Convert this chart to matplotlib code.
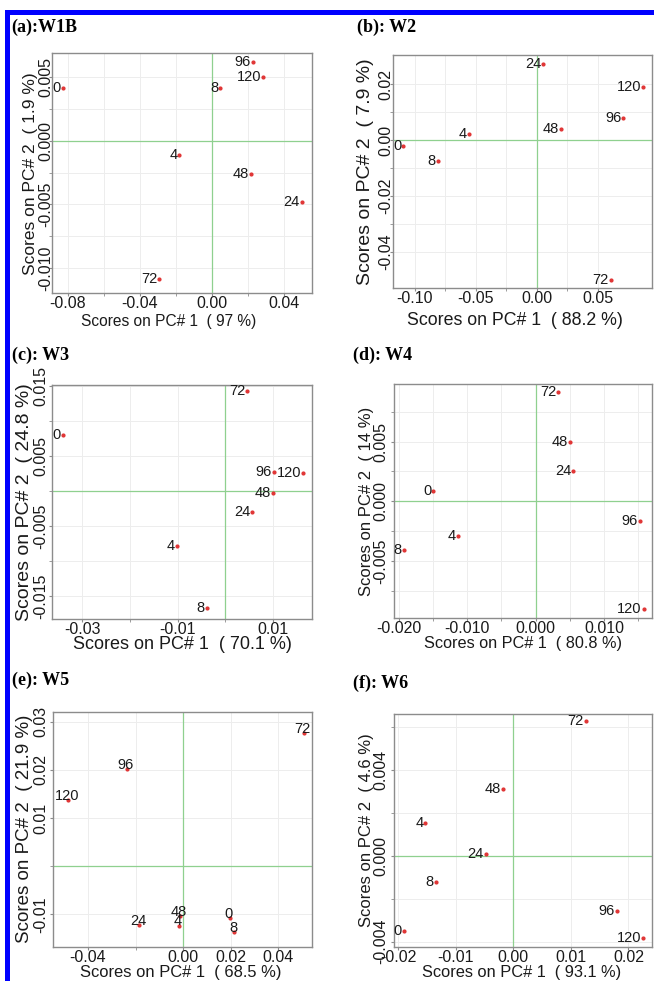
import matplotlib
matplotlib.use('Agg')
import matplotlib.pyplot as plt
from matplotlib.patches import Rectangle
from matplotlib.ticker import FixedLocator, FormatStrFormatter

plt.rcParams['font.family'] = ['Liberation Sans', 'DejaVu Sans']
plt.rcParams['axes.unicode_minus'] = False

hours = ['0', '4', '8', '24', '48', '72', '96', '120']

# scores (PC1, PC2) for each sample
a_x = [-0.0826, -0.0179, 0.0049, 0.0502, 0.0217, -0.0291, 0.0231, 0.0287]
a_y = [0.0042, -0.00107, 0.0042, -0.0048, -0.00257, -0.0109, 0.0062, 0.0050]
b_x = [-0.1096, -0.056, -0.0811, 0.0054, 0.0197, 0.0607, 0.071, 0.0874]
b_y = [-0.0022, 0.0022, -0.0076, 0.0272, 0.0039, -0.0502, 0.0077, 0.0188]
c_x = [-0.0341, -0.0102, -0.0039, 0.0056, 0.0099, 0.00456, 0.0101, 0.0163]
c_y = [0.0081, -0.0078, -0.0167, -0.0030, -0.0002, 0.0143, 0.0028, 0.0026]
d_x = [-0.01495, -0.0113, -0.0193, 0.0055, 0.0050, 0.0033, 0.0152, 0.0158]
d_y = [0.00084, -0.0029, -0.0041, 0.0025, 0.0050, 0.00916, -0.00168, -0.00904]
e_x = [0.0198, -0.0015, 0.0216, -0.0184, -0.0013, 0.0509, -0.0237, -0.0483]
e_y = [-0.0108, -0.0123, -0.0137, -0.0122, -0.0104, 0.0277, 0.0201, 0.0138]
f_x = [-0.019, -0.01524, -0.01344, -0.00475, -0.00185, 0.01264, 0.01798, 0.0226]
f_y = [-0.00351, 0.00151, -0.00121, 0.0001, 0.0031, 0.00628, -0.00258, -0.00382]

titles = ['(a):W1B', '(b): W2', '(c): W3', '(d): W4', '(e): W5', '(f): W6']
pc1_pct = ['97', '88.2', '70.1', '80.8', '68.5', '93.1']
pc2_pct = ['1.9', '7.9', '24.8', '14', '21.9', '4.6']

xs = [a_x, b_x, c_x, d_x, e_x, f_x]
ys = [a_y, b_y, c_y, d_y, e_y, f_y]

# layout in pixels: left, top, right, bottom of each axes frame
W, H = 654, 981
frames = [(51.7, 53.3, 312.3, 293.3), (393.3, 55, 651.7, 288.3),
          (51.7, 385, 312.3, 619.3), (394, 384.3, 652, 617.7),
          (53.3, 711.7, 312.3, 946.7), (394, 714, 652, 946.7)]
title_pos = [(11.7, 32), (356.7, 31.7), (11.7, 360), (353.3, 360), (11.7, 685), (353.3, 688.3)]
ylab_x = [38.5, 373.5, 33.5, 373.5, 33.5, 373.5]     # right side of y label (px)
ytick_pad = [-3.2, -2.2, 0.2, 1.8, 1.3, 1.8]
xlab_gap = [21, 24, 17, 18.5, 18, 18]                # px below frame to top of x label
xlab_dx = [-13, -8, 0, 0, -2, -1]
xlab_fs = [11.2, 12.8, 13, 11.7, 11.9, 11.8]
ylab_fs = [12.5, 14, 14, 12, 13.5, 12]

xlims = [(-0.089, 0.056), (-0.1178, 0.0943), (-0.0364, 0.0182),
         (-0.0207, 0.017), (-0.0546, 0.0544), (-0.0207, 0.0241)]
ylims = [(-0.012, 0.0069), (-0.0531, 0.0304), (-0.0183, 0.0152),
         (-0.00975, 0.0098), (-0.0167, 0.0321), (-0.00424, 0.0066)]
xmaj = [[-0.08, -0.04, 0.0, 0.04], [-0.10, -0.05, 0.0, 0.05], [-0.03, -0.01, 0.01],
        [-0.02, -0.01, 0.0, 0.01], [-0.04, 0.0, 0.02, 0.04], [-0.02, -0.01, 0.0, 0.01, 0.02]]
xmin = [[-0.06, -0.02, 0.02], [-0.075, -0.025, 0.025], [-0.02, 0.0],
        [-0.015, -0.005, 0.005, 0.015], [-0.02], []]
ymaj = [[-0.010, -0.005, 0.0, 0.005], [-0.04, -0.02, 0.0, 0.02], [-0.015, -0.005, 0.005, 0.015],
        [-0.005, 0.0, 0.005], [-0.01, 0.01, 0.02, 0.03], [-0.004, 0.0, 0.004]]
ymin = [[-0.0075, -0.0025, 0.0025], [-0.03, -0.01, 0.01], [-0.01, 0.0, 0.01],
        [-0.0075, -0.0025, 0.0025, 0.0075], [0.0], [-0.002, 0.002, 0.006]]
xfmt = ['%.2f', '%.2f', '%.2f', '%.3f', '%.2f', '%.2f']
yfmt = ['%.3f', '%.2f', '%.3f', '%.3f', '%.2f', '%.3f']

fig = plt.figure(figsize=(W / 100, H / 100), dpi=100)

# blue border on top and left
fig.add_artist(Rectangle((5 / W, 1 - 15 / H), 1, 5 / H, transform=fig.transFigure,
                         color='#0000ff', lw=0))
fig.add_artist(Rectangle((5 / W, 0), 5 / W, 1 - 10 / H, transform=fig.transFigure,
                         color='#0000ff', lw=0))

for i in range(6):
    l, t, r, b = frames[i]
    ax = fig.add_axes([l / W, 1 - b / H, (r - l) / W, (b - t) / H])
    hpx = b - t
    wpx = r - l
    ax.set_xlim(*xlims[i])
    ax.set_ylim(*ylims[i])
    ax.xaxis.set_major_locator(FixedLocator(xmaj[i]))
    ax.xaxis.set_minor_locator(FixedLocator(xmin[i]))
    ax.yaxis.set_major_locator(FixedLocator(ymaj[i]))
    ax.yaxis.set_minor_locator(FixedLocator(ymin[i]))
    ax.xaxis.set_major_formatter(FormatStrFormatter(xfmt[i]))
    ax.yaxis.set_major_formatter(FormatStrFormatter(yfmt[i]))
    ax.grid(True, which='both', color='#ededed', lw=0.7)
    ax.set_axisbelow(True)
    ax.axhline(0, color='#8fd08f', lw=0.9, zorder=1)
    ax.axvline(0, color='#8fd08f', lw=0.9, zorder=1)
    for s in ax.spines.values():
        s.set_color('#8c8c8c')
        s.set_linewidth(1.0)
    ax.tick_params(which='both', direction='out', length=2.2, color='#8c8c8c',
                   labelsize=11.5, labelcolor='#1a1a1a')
    ax.tick_params(axis='x', pad=0)
    ax.tick_params(axis='y', labelrotation=90, pad=ytick_pad[i])
    for lab in ax.get_yticklabels():
        lab.set_va('center')

    ax.plot(xs[i], ys[i], linestyle='none', marker='.', ms=4, color='#e03535', zorder=3)
    for k, name in enumerate(hours):
        if i == 4:
            ax.annotate(name, (xs[i][k], ys[i][k]), xytext=(-1, 3), textcoords='offset points',
                        ha='center', va='center', fontsize=10.5, color='#1a1a1a', zorder=4)
        else:
            ax.annotate(name, (xs[i][k], ys[i][k]), xytext=(-1.5, 0), textcoords='offset points',
                        ha='right', va='center', fontsize=10.5, color='#1a1a1a', zorder=4)

    ax.set_xlabel('Scores on PC# 1  ( %s %%)' % pc1_pct[i], fontsize=xlab_fs[i], color='#1a1a1a')
    ax.set_ylabel('Scores on PC# 2  ( %s %%)' % pc2_pct[i], fontsize=ylab_fs[i], color='#1a1a1a')
    ax.xaxis.set_label_coords(0.5 + xlab_dx[i] / wpx, -xlab_gap[i] / hpx)
    ax.yaxis.set_label_coords((ylab_x[i] - l) / wpx, 0.5)

    tx, ty = title_pos[i]
    fig.text(tx / W, 1 - ty / H, titles[i], fontsize=13, fontweight='bold',
             family='Liberation Serif', ha='left', va='baseline')

fig.savefig('out.png', dpi=100)
